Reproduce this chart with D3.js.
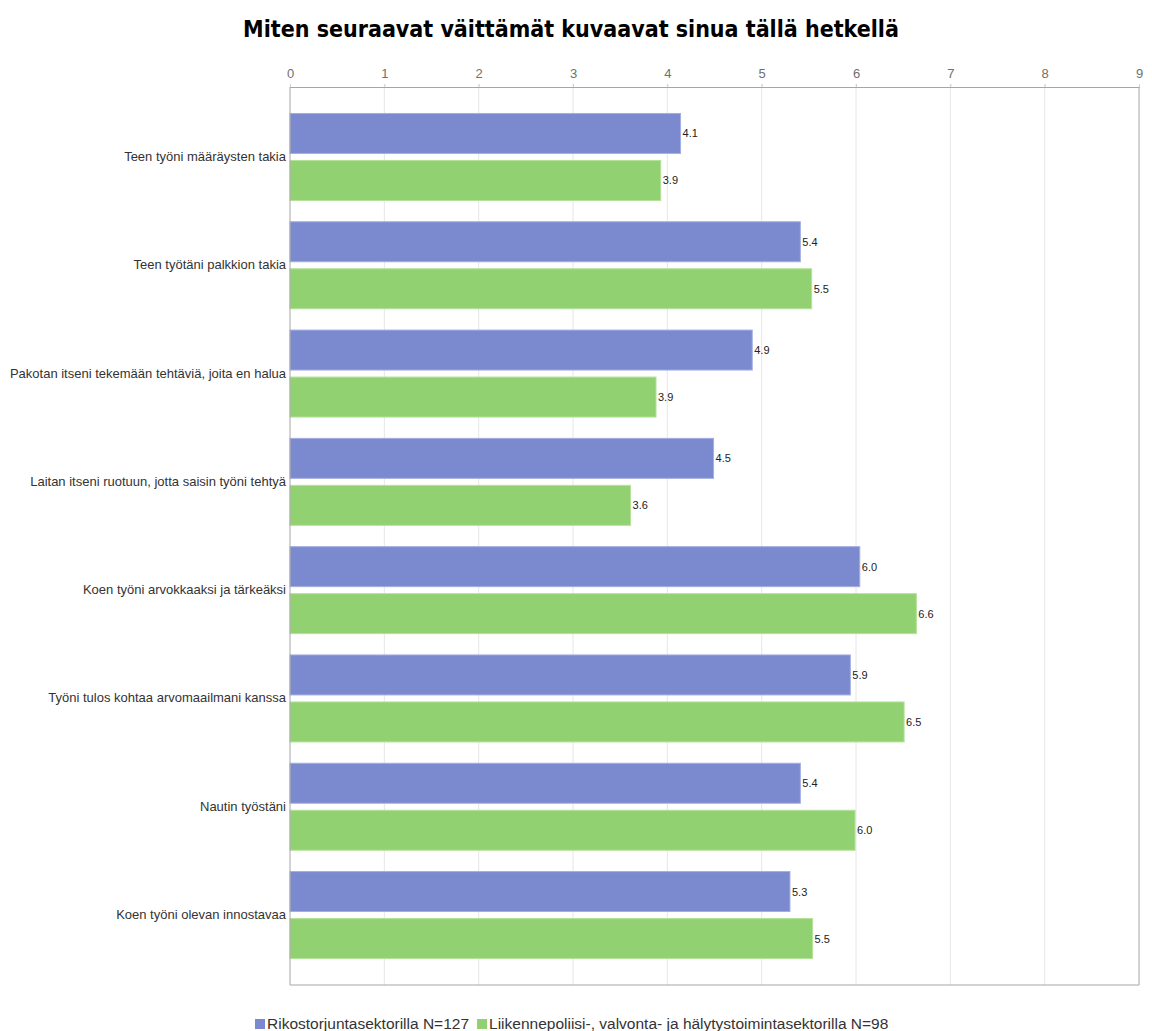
<!DOCTYPE html>
<html>
<head>
<meta charset="utf-8">
<script src="https://cdn.jsdelivr.net/npm/d3@7"></script>
<style>
  html, body { margin: 0; padding: 0; background: #fff; }
  svg { display: block; }
</style>
</head>
<body>
<svg id="chart" width="1152" height="1031"></svg>
<script>
// Statements (y categories)
const categories = [
  "Teen työni määräysten takia",
  "Teen työtäni palkkion takia",
  "Pakotan itseni tekemään tehtäviä, joita en halua",
  "Laitan itseni ruotuun, jotta saisin työni tehtyä",
  "Koen työni arvokkaaksi ja tärkeäksi",
  "Työni tulos kohtaa arvomaailmani kanssa",
  "Nautin työstäni",
  "Koen työni olevan innostavaa"
];

// Series
const seriesNames = [
  "Rikostorjuntasektorilla N=127",
  "Liikennepoliisi-, valvonta- ja hälytystoimintasektorilla N=98"
];
const rikostorjunta = [4.14, 5.41, 4.90, 4.49, 6.04, 5.94, 5.41, 5.30];
const liikennepoliisi = [3.93, 5.53, 3.88, 3.61, 6.64, 6.51, 5.99, 5.54];
const seriesColors = ["#7b8acf", "#92d171"];
const seriesStrokes = ["#a3aee2", "#b4e29a"];

const xTicks = [0, 1, 2, 3, 4, 5, 6, 7, 8, 9];
const titleText = "Miten seuraavat väittämät kuvaavat sinua tällä hetkellä";

const svg = d3.select("#chart");
const W = 1152;
const margin = { left: 290, right: 13, top: 87, bottom: 46 };
const plotW = W - margin.left - margin.right;
const plotH = 1031 - margin.top - margin.bottom;

const x = d3.scaleLinear().domain([0, 9]).range([margin.left, margin.left + plotW]);
const y = d3.scaleBand().domain(categories).range([margin.top, margin.top + plotH])
  .paddingInner(0).paddingOuter(0.146);
const y1 = d3.scaleBand().domain([0, 1]).range([0, y.bandwidth()])
  .paddingInner(0.128).paddingOuter(0.216);

// Title
svg.append("text")
  .attr("x", 571).attr("y", 37)
  .attr("text-anchor", "middle")
  .style("font-family", "'DejaVu Sans', sans-serif")
  .style("font-stretch", "condensed")
  .style("font-weight", "bold")
  .style("font-size", "23px")
  .attr("fill", "#000")
  .text(titleText);

// Vertical gridlines
svg.append("g").selectAll("line")
  .data(xTicks.slice(1, -1))
  .join("line")
  .attr("x1", d => x(d)).attr("x2", d => x(d))
  .attr("y1", margin.top - 3).attr("y2", margin.top + plotH)
  .attr("stroke", "#e6e6e6").attr("stroke-width", 1);

// Top axis with tick labels
const xAxis = d3.axisTop(x).tickValues(xTicks).tickFormat(d3.format("d")).tickSize(3).tickPadding(6);
const gx = svg.append("g").attr("transform", `translate(0,${margin.top})`).call(xAxis);
gx.select(".domain").attr("stroke", "#a6a6a6");
gx.selectAll(".tick line").attr("stroke", "#d0d0d0");
gx.selectAll(".tick text")
  .attr("fill", "#707070")
  .style("font-family", "'Liberation Sans', Arial, sans-serif")
  .style("font-size", "13px");

// Bars
const data = categories.map((c, i) => ({ cat: c, values: [rikostorjunta[i], liikennepoliisi[i]] }));
const groups = svg.append("g").selectAll("g")
  .data(data)
  .join("g")
  .attr("transform", d => `translate(0,${y(d.cat)})`);

groups.selectAll("rect")
  .data(d => d.values.map((v, s) => ({ v, s })))
  .join("rect")
  .attr("x", x(0))
  .attr("y", d => y1(d.s) + 0.5)
  .attr("width", d => x(d.v) - x(0))
  .attr("height", y1.bandwidth() - 1)
  .attr("fill", d => seriesColors[d.s])
  .attr("stroke", d => seriesStrokes[d.s])
  .attr("stroke-width", 1);

// Value labels
groups.selectAll("text.val")
  .data(d => d.values.map((v, s) => ({ v, s })))
  .join("text")
  .attr("class", "val")
  .attr("x", d => x(d.v) + 2)
  .attr("y", d => y1(d.s) + y1.bandwidth() / 2 + 4)
  .style("font-family", "'Liberation Sans', Arial, sans-serif")
  .style("font-size", "11px")
  .attr("fill", "#222")
  .text(d => d3.format(".1f")(d.v));

// Category labels
svg.append("g").selectAll("text")
  .data(categories)
  .join("text")
  .attr("x", margin.left - 4)
  .attr("y", d => y(d) + y.bandwidth() / 2 + 4)
  .attr("text-anchor", "end")
  .style("font-family", "'Liberation Sans', Arial, sans-serif")
  .style("font-size", "13px")
  .attr("fill", "#333")
  .text(d => d);

// Plot frame (left, right, bottom)
const frame = svg.append("g").attr("stroke", "#a6a6a6").attr("fill", "none");
frame.append("line").attr("x1", x(0)).attr("x2", x(0)).attr("y1", margin.top).attr("y2", margin.top + plotH);
frame.append("line").attr("x1", x(9)).attr("x2", x(9)).attr("y1", margin.top).attr("y2", margin.top + plotH);
frame.append("line").attr("x1", x(0)).attr("x2", x(9)).attr("y1", margin.top + plotH).attr("y2", margin.top + plotH);

// Legend
const legend = svg.append("g").attr("transform", "translate(0,1024)");
const legendFont = "15.5px 'Liberation Sans', Arial, sans-serif";
let lx = 255;
seriesNames.forEach((name, i) => {
  legend.append("rect")
    .attr("x", lx).attr("y", -5).attr("width", 10).attr("height", 10)
    .attr("fill", seriesColors[i]);
  const t = legend.append("text")
    .attr("x", lx + 12).attr("y", 5)
    .style("font", legendFont)
    .attr("fill", "#333")
    .text(name);
  lx += 12 + t.node().getComputedTextLength() + 8;
});
</script>
</body>
</html>
